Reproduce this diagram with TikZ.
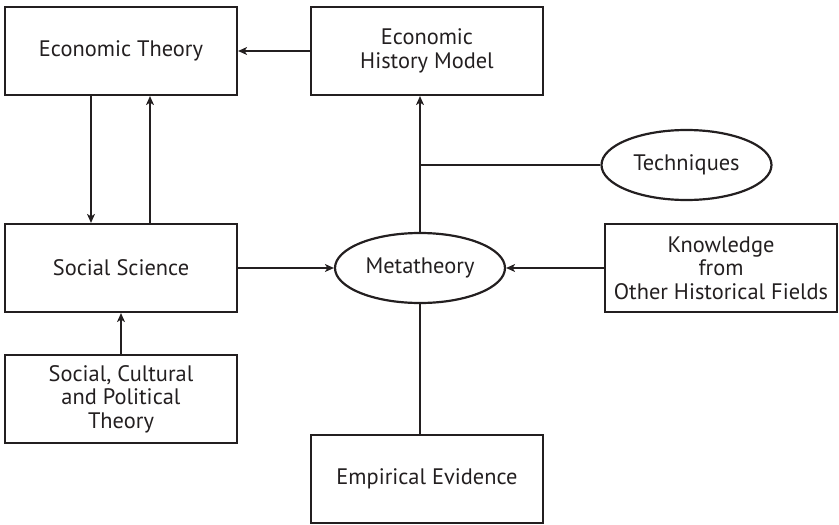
\documentclass[tikz,border=0pt]{standalone}
\usepackage{fontspec}
\setmainfont{PT Sans}
\usetikzlibrary{shapes.geometric,arrows.meta}
\definecolor{ink}{HTML}{231F20}
\begin{document}
\begin{tikzpicture}[x=1pt,y=-1pt,
  box/.style={draw=ink,line width=2.2pt,minimum width=232pt,minimum height=88pt,inner sep=2pt,align=center,text=ink,font=\fontsize{22.4}{23.5}\selectfont},
  oval/.style={ellipse,draw=ink,line width=2.2pt,minimum width=170pt,minimum height=70pt,inner sep=0pt,align=center,text=ink,font=\fontsize{22.4}{23.5}\selectfont},
  conn/.style={draw=ink,line width=1.2pt},
  arr/.style={conn,-{Stealth[length=9pt,width=8pt,inset=2.5pt]}}]
\useasboundingbox (0,0) rectangle (839,525);
\node[box] (ET) at (121,51) {Economic Theory};
\node[box] (EHM) at (427,51) {Economic\\History Model};
\node[box] (SS) at (121,268) {Social Science};
\node[box] (SCP) at (121,399) {Social, Cultural\\and Political\\Theory};
\node[oval] (Meta) at (420,268) {Metatheory};
\node[oval] (Tech) at (686.5,165) {Techniques};
\node[box] (Know) at (721,268) {Knowledge\\from\\Other Historical Fields};
\node[box] (EE) at (427,479) {Empirical Evidence};
\coordinate (J) at (Meta.north |- Tech.west);
\draw[arr] (EHM.west) -- (ET.east);
\draw[arr] ([xshift=-30pt]ET.south) -- ([xshift=-30pt]ET.south |- SS.north);
\draw[arr] ([xshift=29pt]SS.north) -- ([xshift=29pt]SS.north |- ET.south);
\draw[arr] (SCP.north) -- (SS.south);
\draw[arr] (SS.east) -- (Meta.west);
\draw[arr] (Know.west) -- (Meta.east);
\draw[arr] (Meta.north) -- (Meta.north |- EHM.south);
\draw[conn] (Tech.west) -- (J);
\draw[conn] (Meta.south) -- (Meta.south |- EE.north);
\end{tikzpicture}
\end{document}
